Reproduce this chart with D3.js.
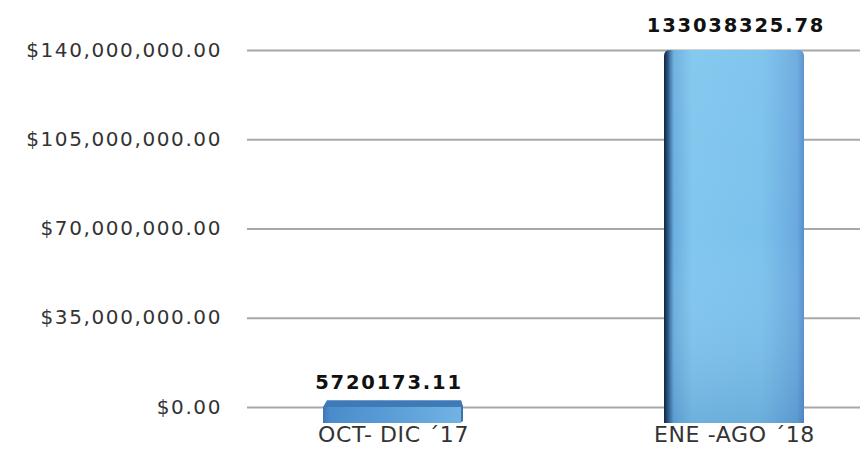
<!DOCTYPE html>
<html><head><meta charset="utf-8">
<script src="https://cdn.jsdelivr.net/npm/d3@7"></script>
<style>html,body{margin:0;padding:0;background:#fff;}svg{display:block;}</style>
</head><body>
<svg id="c" width="860" height="455"></svg>
<script>
const categories = ["OCT- DIC \u00B417", "ENE -AGO \u00B418"];
const values = [5720173.11, 133038325.78];
const valueLabels = ["5720173.11", "133038325.78"];
const tickValues = [0, 35000000, 70000000, 105000000, 140000000];
const tickLabels = ["$0.00", "$35,000,000.00", "$70,000,000.00", "$105,000,000.00", "$140,000,000.00"];

const svg = d3.select("#c");
const W = 860, H = 455;
const gridX0 = 247;
const yMax = 140000000;
// back wall scale (gridlines)
const yBack = d3.scaleLinear().domain([0, yMax]).range([407, 50]);
// front plane scale (bars, 3D perspective)
const yFront = d3.scaleLinear().domain([0, yMax]).range([423, 30.5]);
const x = d3.scalePoint().domain(categories).range([393, 734]);
const barW = 140;

const defs = svg.append("defs");
const gBig = defs.append("linearGradient").attr("id","gBig").attr("x1","0").attr("x2","1").attr("y1","0").attr("y2","0");
[[0,"#10253a"],[0.03,"#2d5a86"],[0.07,"#6aaedf"],[0.2,"#80c6ee"],[0.7,"#7bc2ec"],[0.95,"#6aa9df"],[1,"#5590cc"]]
  .forEach(([o,c]) => gBig.append("stop").attr("offset",o).attr("stop-color",c));
const gShade = defs.append("linearGradient").attr("id","gShade").attr("x1","0").attr("x2","0").attr("y1","0").attr("y2","1");
[[0,"#ffffff",0.05],[0.5,"#ffffff",0],[1,"#1a4f8a",0.18]]
  .forEach(([o,c,a]) => gShade.append("stop").attr("offset",o).attr("stop-color",c).attr("stop-opacity",a));
const gSmall = defs.append("linearGradient").attr("id","gSmall").attr("x1","0").attr("x2","1").attr("y1","0").attr("y2","0");
[[0,"#3d78b6"],[0.05,"#4b8bcb"],[0.6,"#5fa2da"],[1,"#72b3e3"]]
  .forEach(([o,c]) => gSmall.append("stop").attr("offset",o).attr("stop-color",c));

// gridlines
const grid = svg.append("g").attr("transform", `translate(${gridX0},0)`)
  .call(d3.axisRight(yBack).tickValues(tickValues).tickSize(W - gridX0).tickFormat(""));
grid.select(".domain").remove();
grid.selectAll(".tick line").attr("stroke", "#a8a8a8").attr("stroke-width", 2);

// y labels
const yAx = svg.append("g").attr("transform", `translate(${gridX0},0)`)
  .call(d3.axisLeft(yBack).tickValues(tickValues).tickSize(0).tickPadding(25)
    .tickFormat((d,i) => tickLabels[i]));
yAx.select(".domain").remove();
yAx.selectAll(".tick text").attr("font-family","'DejaVu Sans', Verdana, sans-serif")
  .attr("font-size", 20).attr("letter-spacing", 1.6).attr("fill", "#333").attr("dy","0.3em");

// bars
const bars = svg.append("g");
categories.forEach((cat, i) => {
  const v = values[i];
  const cx = x(cat);
  const x0 = cx - barW/2, x1 = cx + barW/2;
  const top = yFront(v), bot = yFront(0);
  const cap = 7 * (1 - v / yMax);
  if (i === 1) {
    bars.append("path")
      .attr("d", `M${x0},${bot} L${x0},${top+6} Q${x0},${top} ${x0+6},${top} L${x1-6},${top} Q${x1},${top} ${x1},${top+6} L${x1},${bot} Z`)
      .attr("fill","url(#gBig)");
    bars.append("rect").attr("x", x0+5).attr("y", top).attr("width", barW-5).attr("height", bot-top)
      .attr("fill","url(#gShade)");
  } else {
    bars.append("path")
      .attr("d", `M${x0},${top} L${x0+4},${top-cap} L${x1-2},${top-cap} L${x1},${top} Z`)
      .attr("fill","#3f7ab8");
    bars.append("path")
      .attr("d", `M${x1-2},${top-cap} L${x1},${top} L${x1},${bot-2} L${x1-3},${bot} Z`)
      .attr("fill","#3c74ae");
    bars.append("rect").attr("x", x0).attr("y", top).attr("width", barW-2).attr("height", bot-top)
      .attr("fill","url(#gSmall)");
  }
  // value label
  svg.append("text").attr("x", i === 0 ? cx - 4 : cx + 2).attr("y", top - 18)
    .attr("text-anchor","middle").attr("font-family","'DejaVu Sans', Verdana, sans-serif")
    .attr("font-weight","bold").attr("font-size", 19.5).attr("letter-spacing", 1.8)
    .attr("fill","#111").text(valueLabels[i]);
});

// category labels
const xAx = svg.append("g").attr("transform","translate(0,423)")
  .call(d3.axisBottom(x).tickSize(0).tickPadding(8));
xAx.select(".domain").remove();
xAx.selectAll(".tick text").attr("font-family","'DejaVu Sans', Verdana, sans-serif")
  .attr("font-size", 22).attr("letter-spacing", 0.6).attr("fill","#333").attr("dy","0.5em");
</script>
</body></html>
